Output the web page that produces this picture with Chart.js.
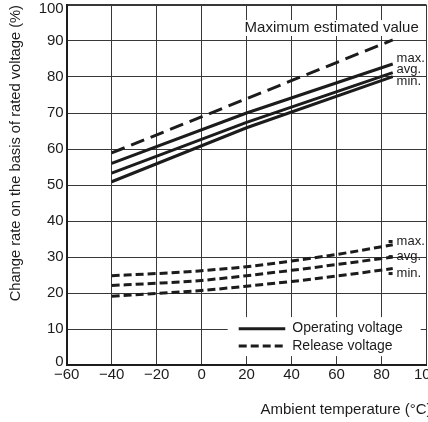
<!DOCTYPE html>
<html><head><meta charset="utf-8">
<script src="https://cdn.jsdelivr.net/npm/chart.js@4"></script>
<style>
html,body{margin:0;padding:0;overflow:hidden;background:#fff;width:428px;height:422px}
#wrap{position:absolute;left:0;top:-6px;width:440px;height:428px}
</style>
</head><body><div id="wrap"><canvas id="c"></canvas></div>
<script>
const opTemps = [-40, 20, 85];
const opMax = [56.0, 70.0, 83.6];
const opAvg = [53.3, 67.4, 81.2];
const opMin = [50.9, 65.9, 80.1];
const estTemps = [-40, 85];
const estMax = [58.9, 90.3];
const relTemps = [-40, -20, 0, 20, 40, 60, 85];
const relMax = [24.8, 25.4, 26.2, 27.3, 28.9, 30.7, 33.4];
const relAvg = [22.1, 22.7, 23.5, 24.8, 26.3, 27.9, 30.0];
const relMin = [19.1, 19.9, 20.7, 21.9, 23.2, 24.7, 26.8];
const xTicks = [-60, -40, -20, 0, 20, 40, 60, 80, 100];
const yTicks = [0, 10, 20, 30, 40, 50, 60, 70, 80, 90, 100];
const seriesTags = ['max.', 'avg.', 'min.'];
const legendNames = ['Operating voltage', 'Release voltage'];
const estName = 'Maximum estimated value';
const xTitle = 'Ambient temperature (\u00B0C)';
const yTitle = 'Change rate on the basis of rated voltage (%)';

const zip = (xs, ys) => xs.map((x, i) => ({x: x, y: ys[i]}));
const INK = '#1c1c1c';
const FONT = "'Liberation Sans', Arial, sans-serif";

function ds(xs, ys, dash) {
  return {data: zip(xs, ys), borderColor: INK, borderWidth: 3, pointRadius: 0,
    borderDash: dash || [], fill: false, tension: 0, borderCapStyle: 'butt'};
}
const relDs = a => Object.assign(ds(relTemps, a, [8, 4]), {cubicInterpolationMode: 'monotone'});

const annot = {
  id: 'annot',
  beforeDatasetsDraw(chart) {
    const {ctx} = chart;
    const xs = chart.scales.x, ys = chart.scales.y;
    ctx.save();
    ctx.fillStyle = '#fff';
    ctx.fillRect(xs.getPixelForValue(11.6), ys.getPixelForValue(13.3), 193, 39);
    ctx.font = '15px ' + FONT;
    const w = ctx.measureText(estName).width;
    ctx.fillRect(xs.getPixelForValue(19.1) - 2, ys.getPixelForValue(93.6) - 8, w + 4, 16);
    ctx.restore();
  },
  afterDatasetsDraw(chart) {
    const {ctx} = chart;
    const xs = chart.scales.x, ys = chart.scales.y;
    ctx.save();
    ctx.fillStyle = INK;
    ctx.strokeStyle = INK;
    ctx.textBaseline = 'middle';
    ctx.textAlign = 'left';
    ctx.font = '15px ' + FONT;
    ctx.fillText(estName, xs.getPixelForValue(19.1), ys.getPixelForValue(93.6));
    ctx.font = '13px ' + FONT;
    const tx = xs.getPixelForValue(86.7);
    const opY = [85.2, 82.0, 78.9];
    const relY = [34.3, 30.1, 25.4];
    seriesTags.forEach((t, i) => {
      ctx.fillText(t, tx, ys.getPixelForValue(opY[i]));
      ctx.fillText(t, tx, ys.getPixelForValue(relY[i]));
      ctx.lineWidth = 3;
      ctx.beginPath();
      ctx.moveTo(tx - 8, ys.getPixelForValue(relY[i]));
      ctx.lineTo(tx - 4, ys.getPixelForValue(relY[i]));
      ctx.stroke();
    });
    const lx0 = xs.getPixelForValue(16.5), lx1 = xs.getPixelForValue(37.2);
    const ly = [ys.getPixelForValue(10.1), ys.getPixelForValue(5.3)];
    ctx.lineWidth = 3;
    ctx.beginPath(); ctx.setLineDash([]);
    ctx.moveTo(lx0, ly[0]); ctx.lineTo(lx1, ly[0]); ctx.stroke();
    ctx.beginPath(); ctx.setLineDash([8, 4]);
    ctx.moveTo(lx0, ly[1]); ctx.lineTo(lx1, ly[1]); ctx.stroke();
    ctx.setLineDash([]);
    ctx.font = '14px ' + FONT;
    ctx.fillText(legendNames[0], lx1 + 7, ly[0]);
    ctx.fillText(legendNames[1], lx1 + 7, ly[1]);
    ctx.font = '15px ' + FONT;
    ctx.fillText(xTitle, xs.getPixelForValue(26.2), xs.bottom + 25);
    ctx.restore();
  }
};

const minus = v => (v < 0 ? '\u2212' + Math.abs(v) : String(v));
// end labels nudged inward like the original (blank line + small line height)
const yLabel = v => (v === 100 ? ['', String(v)] : v === 0 ? [String(v), ''] : String(v));
const yFont = c => {
  const v = c.tick ? c.tick.value : null;
  if (v === 100) return {size: 15, family: FONT, lineHeight: '8px'};
  if (v === 0) return {size: 15, family: FONT, lineHeight: '6px'};
  return {size: 15, family: FONT};
};

new Chart(document.getElementById('c'), {
  type: 'line',
  data: {datasets: [
    ds(estTemps, estMax, [14, 7]),
    ds(opTemps, opMax), ds(opTemps, opAvg), ds(opTemps, opMin),
    relDs(relMax), relDs(relAvg), relDs(relMin)
  ]},
  options: {
    responsive: true, maintainAspectRatio: false, animation: false,
    layout: {padding: {left: 7, right: 0, top: 0, bottom: 37}},
    plugins: {legend: {display: false}, tooltip: {enabled: false}},
    scales: {
      x: {type: 'linear', min: -60, max: 100,
        afterBuildTicks: s => { s.ticks = xTicks.map(v => ({value: v})); },
        ticks: {callback: minus, color: INK, font: {size: 15, family: FONT}, padding: 1, maxRotation: 0, autoSkip: false},
        grid: {color: '#383838', lineWidth: 1, drawTicks: false},
        border: {color: INK, width: 2}
      },
      y: {type: 'linear', min: 0, max: 100,
        afterBuildTicks: s => { s.ticks = yTicks.map(v => ({value: v})); },
        ticks: {callback: yLabel, color: INK, font: yFont, padding: 3},
        grid: {color: '#383838', lineWidth: c => (c.tick && c.tick.value === 100 ? 2 : 1), drawTicks: false},
        border: {color: INK, width: 2},
        title: {display: true, text: yTitle, align: 'end', color: INK, font: {size: 14.7, family: FONT}, padding: {top: 0, bottom: 11}}
      }
    }
  },
  plugins: [annot]
});
</script></body></html>
